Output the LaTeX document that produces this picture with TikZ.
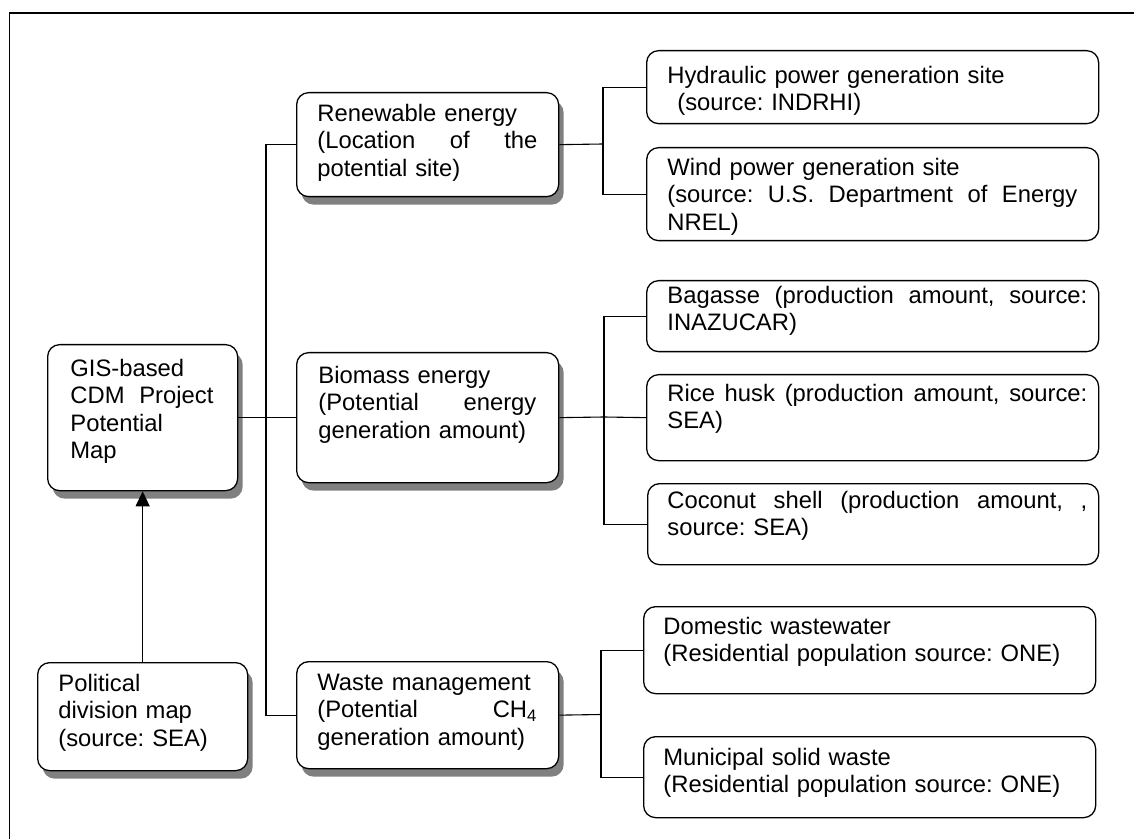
\documentclass[tikz,border=0pt]{standalone}
\usepackage{fontspec}
\setmainfont{Liberation Sans}
\usetikzlibrary{arrows.meta,shadows}
\newcommand{\jline}[1]{\leavevmode\hbox to \linewidth{#1}}
\begin{document}
\begin{tikzpicture}[x=0.5pt,y=-0.5pt,
  box/.style={draw, line width=0.65pt, rounded corners=6pt, fill=white, inner sep=0pt, anchor=north west},
  sbox/.style={box, drop shadow={shadow xshift=2.5pt, shadow yshift=-4pt, fill=black!50, opacity=1}},
  txt/.style={anchor=base west, inner sep=0pt, align=left, font=\fontsize{11.9}{13.7}\selectfont\frenchspacing},
  conn/.style={line width=0.55pt},
]
\useasboundingbox (0,0) rectangle (1134,839);
\draw[line width=0.75pt] (9.5,839) -- (9.5,13) -- (1134,13);

% left column
\node[sbox, minimum width=95pt, minimum height=73pt] (gis) at (47,344) {};
\node[txt, text width=71.5pt] (gist) at (70,376.5) {GIS-based\\ \jline{CDM\hfill Project}\\ Potential\\ Map};
\node[sbox, minimum width=105pt, minimum height=54pt] (pol) at (37,662) {};
\node[txt, text width=170pt] (polt) at (58,691.5) {Political\\ division map\\ (source: SEA)};

% middle column
\node[sbox, minimum width=131pt, minimum height=52pt] (ren) at (296,92) {};
\node[txt, text width=110pt] (rent) at (317,121.5) {Renewable energy\\ \jline{(Location\hfill of\hfill the}\\ potential site)};
\node[sbox, minimum width=131pt, minimum height=65pt] (bio) at (296,352) {};
\node[txt, text width=109pt] (biot) at (318,383.5) {Biomass energy\\ \jline{(Potential\hfill energy}\\ generation amount)};
\node[sbox, minimum width=131pt, minimum height=53.5pt] (was) at (296,661) {};
\node[txt, text width=110pt] (wast) at (317,690.5) {Waste management\\ \jline{(Potential\hfill CH\textsubscript{4}}\\ generation amount)};

% right column
\node[box, minimum width=226pt, minimum height=36.5pt] (hyd) at (646,50) {};
\node[txt, text width=205pt] (hydt) at (667,83.5) {Hydraulic power generation site\\ \hspace*{5pt}(source: INDRHI)};
\node[box, minimum width=226pt, minimum height=46.5pt] (wind) at (646,147) {};
\node[txt, text width=205pt] (windt) at (667,175.5) {Wind power generation site\\ \jline{(source:\hfill U.S.\hfill Department\hfill of\hfill Energy}\\ NREL)};
\node[box, minimum width=226pt, minimum height=35.5pt] (bag) at (646,280) {};
\node[txt, text width=210pt] (bagt) at (667,303.5) {\jline{Bagasse\hfill (production\hfill amount,\hfill source:}\\ INAZUCAR)};
\node[box, minimum width=226pt, minimum height=43pt] (rice) at (646,374) {};
\node[txt, text width=210pt] (ricet) at (667,401.5) {\jline{Rice\hfill husk\hfill (production\hfill amount,\hfill source:}\\ SEA)};
\node[box, minimum width=225.5pt, minimum height=40.5pt] (coco) at (647,483) {};
\node[txt, text width=210pt] (cocot) at (667,508.5) {\jline{Coconut\hfill shell\hfill (production\hfill amount,\hfill ,}\\ source: SEA)};
\node[box, minimum width=226pt, minimum height=43.5pt] (dom) at (643,606) {};
\node[txt, text width=210pt] (domt) at (663,634.5) {Domestic wastewater\\ (Residential population source: ONE)};
\node[box, minimum width=226pt, minimum height=40.5pt] (mun) at (643,736) {};
\node[txt, text width=210pt] (munt) at (663,765.5) {Municipal solid waste\\ (Residential population source: ONE)};

% connectors
\coordinate (mt) at (266,417);
\draw[conn] (ren.west) -| (mt) |- (was.west);
\draw[conn] (gis.east) -- (bio.west);
\coordinate (rt) at (603,144);
\draw[conn] (ren.east) -- (rt);
\draw[conn] (hyd.west) -| (rt) |- (wind.west);
\coordinate (bt) at (604,417);
\draw[conn] (bio.east) -- (bt);
\draw[conn] (bag.west) -| (bt) |- (coco.west);
\draw[conn] (bt) -- (rice.west);
\coordinate (wt) at (601,714.5);
\draw[conn] (was.east) -- (wt);
\draw[conn] (dom.west) -| (wt) |- (mun.west);
\draw[conn, -{Triangle[length=7.5pt,width=7pt]}] (pol.north) -- (gis.south);
\end{tikzpicture}
\end{document}
